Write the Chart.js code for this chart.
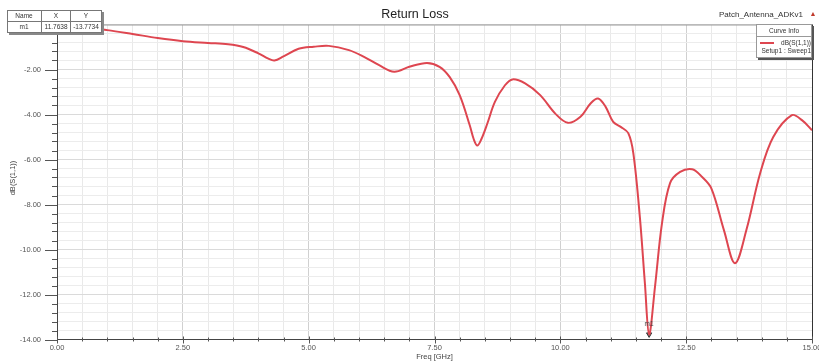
<!DOCTYPE html>
<html>
<head>
<meta charset="utf-8">
<script src="https://cdn.jsdelivr.net/npm/chart.js@4/dist/chart.umd.min.js"></script>
<style>
html,body{margin:0;padding:0;background:#fff;}
#wrap{position:relative;width:819px;height:363px;}
</style>
</head>
<body>
<div id="wrap"><canvas id="c" width="819" height="363"></canvas></div>
<script>
// ---- data ----
const freqGHz = [0, 0.5, 1.0, 1.5, 2.0, 2.5, 3.0, 3.4, 3.7, 4.0, 4.2, 4.32, 4.5, 4.8, 5.1, 5.4, 5.8, 6.1, 6.4, 6.7, 7.0, 7.35, 7.6, 7.8, 8.0, 8.2, 8.28, 8.35, 8.43, 8.55, 8.7, 8.9, 9.05, 9.3, 9.6, 9.9, 10.15, 10.4, 10.6, 10.75, 10.9, 11.05, 11.2, 11.35, 11.45, 11.58, 11.68, 11.7638, 11.88, 12.02, 12.18, 12.38, 12.62, 12.8, 13.0, 13.25, 13.47, 13.7, 13.97, 14.23, 14.6, 14.8, 15.0];
const s11dB   = [-0.08, -0.12, -0.25, -0.42, -0.6, -0.74, -0.82, -0.88, -1.0, -1.28, -1.52, -1.6, -1.42, -1.08, -0.99, -0.95, -1.14, -1.44, -1.81, -2.1, -1.88, -1.71, -1.88, -2.33, -3.14, -4.48, -5.1, -5.38, -5.1, -4.4, -3.44, -2.7, -2.44, -2.62, -3.14, -3.96, -4.37, -4.1, -3.51, -3.29, -3.66, -4.33, -4.55, -4.83, -5.72, -8.56, -11.5, -13.7734, -11.67, -8.83, -7.05, -6.55, -6.43, -6.74, -7.28, -9.14, -10.61, -9.1, -6.61, -5.0, -4.03, -4.25, -4.7];
const markerName = ["m1"];
const markerX = [11.7638];
const markerY = [-13.7734];
const chartTitle = "Return Loss";
const designName = "Patch_Antenna_ADKv1";
const xAxisTitle = "Freq [GHz]";
const yAxisTitle = "dB(S(1,1))";
const legendTitle = "Curve Info";
const legendLabel = "dB(S(1,1))";
const legendSub = "Setup1 : Sweep1";

const FONT = "'Liberation Sans', Arial, sans-serif";
const curve = freqGHz.map((f, i) => ({x: f, y: s11dB[i]}));
const markerPts = markerX.map((f, i) => ({x: f, y: markerY[i]}));

function near(v, step){ return Math.abs(v/step - Math.round(v/step)) < 1e-6; }

const decor = {
  id: 'decor',
  afterDraw(chart){
    const ctx = chart.ctx, xs = chart.scales.x, ys = chart.scales.y, a = chart.chartArea;
    ctx.save();
    ctx.lineWidth = 1;
    ctx.strokeStyle = '#9a9a9a';
    ctx.beginPath(); ctx.moveTo(a.left, a.top + 0.5); ctx.lineTo(a.right, a.top + 0.5); ctx.stroke();
    ctx.strokeStyle = '#333';
    ctx.beginPath(); ctx.moveTo(a.right + 0.5, a.top); ctx.lineTo(a.right + 0.5, a.bottom); ctx.stroke();
    ctx.strokeStyle = '#555';
    for (let v = -14; v <= 0.0001; v += 0.4) {
      const vv = Math.round(v*10)/10;
      const p = Math.round(ys.getPixelForValue(vv)) + 0.5;
      const major = near(vv, 2);
      ctx.beginPath(); ctx.moveTo(a.left - (major ? 12 : 5), p); ctx.lineTo(a.left, p); ctx.stroke();
    }
    for (let f = 0; f <= 15.0001; f += 0.5) {
      const p = Math.round(xs.getPixelForValue(f)) + 0.5;
      const major = near(f, 2.5);
      ctx.beginPath(); ctx.moveTo(p, a.bottom - (major ? 3 : 2)); ctx.lineTo(p, a.bottom + (major ? 4 : 2)); ctx.stroke();
    }
    ctx.fillStyle = '#222';
    ctx.font = '12.5px ' + FONT;
    ctx.textAlign = 'center'; ctx.textBaseline = 'middle';
    ctx.fillText(chartTitle, 415, 15);
    ctx.font = '8px ' + FONT;
    ctx.fillStyle = '#333';
    ctx.textAlign = 'right';
    ctx.fillText(designName, 803, 15);
    ctx.fillStyle = '#c0392b';
    ctx.font = '7px ' + FONT;
    ctx.textAlign = 'center';
    ctx.fillText('\u25B2', 813, 14);
    ctx.fillStyle = '#444';
    ctx.font = '7.5px ' + FONT;
    ctx.fillText(xAxisTitle, (a.left + a.right)/2, 357);
    ctx.save();
    ctx.translate(13, 178);
    ctx.rotate(-Math.PI/2);
    ctx.fillText(yAxisTitle, 0, 0);
    ctx.restore();
    const mx = xs.getPixelForValue(markerX[0]), my = ys.getPixelForValue(markerY[0]);
    ctx.fillStyle = '#444';
    ctx.font = '6.5px ' + FONT;
    ctx.fillText(markerName[0], mx, my - 10);
    // marker table
    ctx.fillStyle = '#888';
    ctx.fillRect(9, 12, 95, 23);
    ctx.fillStyle = '#fff';
    ctx.fillRect(7, 10, 95, 23);
    ctx.strokeStyle = '#777';
    ctx.strokeRect(7.5, 10.5, 94, 22);
    ctx.beginPath();
    ctx.moveTo(7.5, 21.5); ctx.lineTo(101.5, 21.5);
    ctx.moveTo(41.5, 10.5); ctx.lineTo(41.5, 32.5);
    ctx.moveTo(70.5, 10.5); ctx.lineTo(70.5, 32.5);
    ctx.stroke();
    ctx.fillStyle = '#333';
    ctx.font = '6.5px ' + FONT;
    ctx.textAlign = 'center';
    ctx.fillText('Name', 24, 16.5);
    ctx.fillText('X', 56, 16.5);
    ctx.fillText('Y', 86, 16.5);
    ctx.fillText(markerName[0], 24, 27.5);
    ctx.fillText(markerX[0].toFixed(4), 56, 27.5);
    ctx.fillText(markerY[0].toFixed(4), 86, 27.5);
    // legend box
    ctx.fillStyle = '#555';
    ctx.fillRect(758, 26, 56, 34);
    ctx.fillStyle = '#fff';
    ctx.fillRect(756, 24, 56, 34);
    ctx.strokeStyle = '#999';
    ctx.strokeRect(756.5, 24.5, 55, 33);
    ctx.beginPath(); ctx.moveTo(757, 36.5); ctx.lineTo(811, 36.5); ctx.stroke();
    ctx.fillStyle = '#333';
    ctx.font = '6.5px ' + FONT;
    ctx.textAlign = 'center';
    ctx.fillText(legendTitle, 784, 31);
    ctx.strokeStyle = 'rgb(222,70,80)';
    ctx.lineWidth = 2;
    ctx.beginPath(); ctx.moveTo(760, 43); ctx.lineTo(774, 43); ctx.stroke();
    ctx.textAlign = 'right';
    ctx.fillText(legendLabel, 811, 43);
    ctx.fillText(legendSub, 811, 51);
    ctx.restore();
  }
};

new Chart(document.getElementById('c'), {
  type: 'line',
  data: {
    datasets: [
      {
        label: legendLabel,
        data: curve,
        borderColor: 'rgb(222,70,80)',
        borderWidth: 2,
        pointRadius: 0,
        tension: 0.35,
        fill: false
      },
      {
        label: markerName[0],
        data: markerPts,
        showLine: false,
        pointStyle: 'triangle',
        rotation: 180,
        pointRadius: 3,
        pointBackgroundColor: '#777',
        pointBorderColor: '#333',
        pointBorderWidth: 1
      }
    ]
  },
  options: {
    responsive: false,
    animation: false,
    devicePixelRatio: 1,
    layout: { padding: { left: 0, right: 7, top: 24.5, bottom: 0 } },
    plugins: { legend: { display: false }, tooltip: { enabled: false }, title: { display: false } },
    scales: {
      x: {
        type: 'linear', min: 0, max: 15,
        afterFit(s){ s.height = 23.5; s.paddingLeft = 0; s.paddingRight = 0; },
        ticks: {
          stepSize: 0.5, autoSkip: false, maxRotation: 0, padding: 4,
          color: '#555', font: { size: 7.5, family: FONT },
          callback: v => near(v, 2.5) ? v.toFixed(2) : ''
        },
        grid: {
          drawTicks: false,
          color: c => near(c.tick.value, 2.5) ? '#d0d0d0' : '#e9e9e9',
          lineWidth: 1
        },
        border: { display: true, color: '#444', width: 1 }
      },
      y: {
        type: 'linear', min: -14, max: 0,
        afterFit(s){ s.width = 57; s.paddingTop = 0; s.paddingBottom = 0; },
        ticks: {
          stepSize: 0.4, autoSkip: false, padding: 16,
          color: '#555', font: { size: 7.5, family: FONT },
          callback: v => (near(v, 2) && Math.abs(v) > 1e-6) ? v.toFixed(2) : ''
        },
        grid: {
          drawTicks: false,
          color: c => near(c.tick.value, 2) ? '#dadada' : '#ececec',
          lineWidth: 1
        },
        border: { display: true, color: '#444', width: 1 }
      }
    }
  },
  plugins: [decor]
});
</script>
</body>
</html>
